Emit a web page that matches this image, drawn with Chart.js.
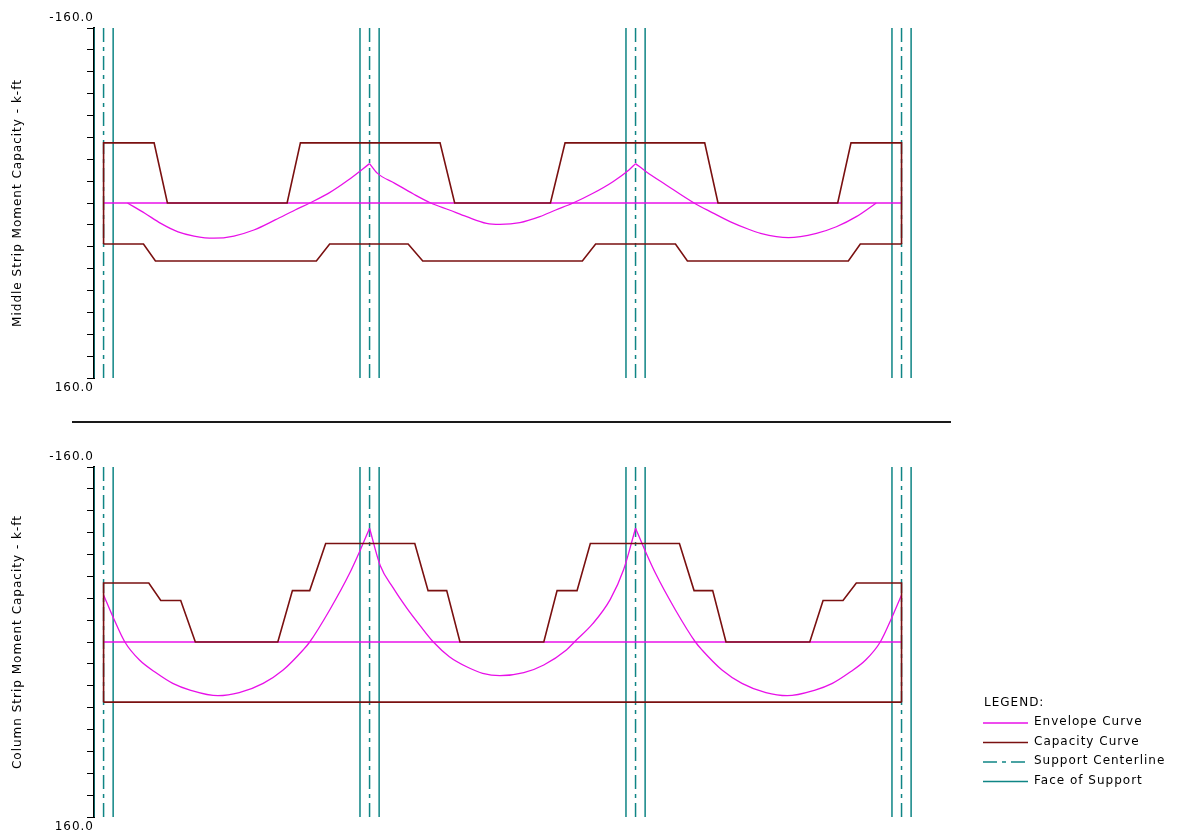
<!DOCTYPE html>
<html>
<head>
<meta charset="utf-8">
<title>Strip Moment Capacity</title>
<script src="https://cdn.jsdelivr.net/npm/chart.js@4.4.1/dist/chart.umd.min.js"></script>
<style>
  html, body { margin: 0; padding: 0; background: #fff; overflow: hidden; }
  #page { position: relative; width: 1180px; height: 836px; }
  .panel { position: absolute; left: 0; width: 1180px; height: 420px; }
  #top { top: 0; }
  #bottom { top: 420px; }
  #divider { position: absolute; left: 72px; top: 421px; width: 879px; height: 2px; background: #1a1a1a; }
</style>
</head>
<body>
<div id="page">
  <div class="panel" id="top"><canvas id="middleStrip" width="1180" height="420"></canvas></div>
  <div id="divider"></div>
  <div class="panel" id="bottom"><canvas id="columnStrip" width="1180" height="420"></canvas></div>
</div>
<script>
// moment axis (k-ft), drawn reversed: negative at the top
const yLimits = [-160, 160];
const yStep = 20;
// distance along the strip (ft)
const xLimits = [-0.72, 64.02];

// supports: centerlines and faces
const supportX = [0, 20, 40, 60];
const faceX = [-0.72, 0.72, 19.28, 20.72, 39.28, 40.72, 59.28, 60.72];

// zero line of the envelope
const baseX = [0, 60];
const baseY = [0, 0];

// ---- middle strip ----
const midCapTopX = [0, 0, 3.8, 4.8, 13.8, 14.8, 25.3, 26.4, 33.6, 34.7, 45.2, 46.2, 55.2, 56.2, 60, 60];
const midCapTopY = [37.5, -55, -55, 0, 0, -55, -55, 0, 0, -55, -55, 0, 0, -55, -55, 37.5];
const midCapBotX = [0, 3.0, 3.9, 16.0, 17.0, 22.9, 24.0, 36.0, 37.0, 43.0, 43.9, 56.0, 56.9, 60];
const midCapBotY = [37.5, 37.5, 53, 53, 37.5, 37.5, 53, 53, 37.5, 37.5, 53, 53, 37.5, 37.5];

const midEnv1X = [1.8, 3.1, 4.3, 5.6, 6.8, 8.3, 9.8, 11.3, 12.9, 14.4, 15.5, 16.9, 18.4, 20.0];
const midEnv1Y = [0, 9.4, 18.6, 26.4, 30.2, 32.2, 30.2, 24.7, 15.5, 6.4, 0, -8.8, -21, -36];
const midEnv2X = [20.0, 20.6, 21.9, 23.3, 24.6, 26.0, 27.3, 28.8, 29.8, 31.3, 32.8, 34.0, 35.3, 36.8, 38.3, 39.5, 40.0];
const midEnv2Y = [-36, -27.1, -18, -8.2, 0, 6.4, 12.5, 18.6, 19.5, 18, 12.5, 6.4, 0, -8.9, -19.5, -30.2, -36];
const midEnv3X = [40.0, 40.8, 42.3, 44.4, 45.8, 47.1, 48.5, 49.4, 51.5, 53.6, 55.1, 56.6, 58.1];
const midEnv3Y = [-36, -28.6, -16.5, 0, 9, 17, 24, 27.7, 31.7, 27.7, 21.7, 12.5, 0];

// ---- column strip ----
const colCapTopX = [0, 0, 3.4, 4.3, 5.8, 6.9, 13.1, 14.2, 15.5, 16.7, 23.4, 24.4, 25.8, 26.8,
                    33.1, 34.1, 35.6, 36.6, 43.3, 44.4, 45.8, 46.8, 53.1, 54.1, 55.6, 56.6, 60, 60];
const colCapTopY = [55, -54, -54, -38, -38, 0, 0, -47, -47, -90, -90, -47, -47, 0,
                    0, -47, -47, -90, -90, -47, -47, 0, 0, -38, -38, -54, -54, 55];
const colCapBotX = [0, 60];
const colCapBotY = [55, 55];

const colEnv1X = [0, 0.7, 1.6, 2.7, 4.0, 5.2, 6.5, 8.6, 10.2, 12.0, 13.5, 15.0, 15.5, 17.0, 18.5, 19.3, 20.0];
const colEnv1Y = [-43, -23.1, 0, 16.5, 28.6, 37.8, 43.9, 49.1, 46.3, 37.8, 25.6, 7.3, 0, -29.3, -62.8, -84, -104];
const colEnv2X = [20.0, 20.8, 21.8, 22.8, 23.8, 24.8, 26.0, 27.3, 28.5, 29.8, 31.6, 33.1, 34.8, 35.4, 36.8, 38.1, 39.1, 40.0];
const colEnv2Y = [-104, -70, -49, -31, -15, 0, 13.4, 22.6, 28.6, 30.8, 28, 21, 7.3, 0, -17, -39, -66, -104];
const colEnv3X = [40.0, 40.7, 41.5, 43.0, 44.5, 45.0, 46.5, 48.0, 49.8, 51.4, 53.5, 54.8, 56.0, 57.3, 58.4, 59.3, 60.0];
const colEnv3Y = [-104, -84, -62.8, -29.3, 0, 7.3, 25.6, 37.8, 46.3, 49.1, 43.9, 37.8, 28.6, 16.5, 0, -23.1, -43];

const legendLabels = ["Envelope Curve", "Capacity Curve", "Support Centerline", "Face of Support"];

const ENV_COLOR = "#e810e8";
const CAP_COLOR = "#7a1010";
const SUP_COLOR = "#0f8585";
const CENTER_DASH = [14, 5, 4, 5];
const FONT = "DejaVu Sans";

function xy(xs, ys) {
  return xs.map((x, i) => ({ x, y: ys[i] }));
}

// vertical lines over the full axis, broken by null points
function verticals(xs) {
  return xs.flatMap(x => [{ x, y: yLimits[0] }, { x, y: yLimits[1] }, { x, y: null }]);
}

function lineSet(label, data, color, width, order, extra) {
  return Object.assign({
    label,
    data,
    borderColor: color,
    backgroundColor: color,
    borderWidth: width,
    order,
    showLine: true,
    fill: false,
    pointRadius: 0,
    pointHoverRadius: 0,
    spanGaps: false
  }, extra || {});
}

const letterSpacing = {
  id: "letterSpacing",
  beforeDraw(chart) {
    chart.ctx.letterSpacing = "1px";
  }
};

const stripLegend = {
  id: "stripLegend",
  afterDraw(chart, args, opts) {
    if (!opts.show) return;
    const ctx = chart.ctx;
    ctx.save();
    ctx.font = "12px '" + FONT + "'";
    ctx.letterSpacing = "1px";
    ctx.fillStyle = "#000";
    ctx.textBaseline = "middle";
    ctx.textAlign = "left";
    ctx.fillText("LEGEND:", opts.x + 1, opts.y);
    legendLabels.forEach((label, i) => {
      const ds = chart.data.datasets.find(d => d.label === label);
      const y = opts.y + (i + 1) * opts.step;
      ctx.strokeStyle = ds.borderColor;
      ctx.lineWidth = ds.borderWidth;
      ctx.setLineDash(ds.borderDash || []);
      ctx.beginPath();
      ctx.moveTo(opts.x, y + 1);
      ctx.lineTo(opts.x + opts.sample, y + 1);
      ctx.stroke();
      ctx.setLineDash([]);
      ctx.fillText(label, opts.x + opts.sample + 6, y);
    });
    ctx.restore();
  }
};

function makeChart(canvasId, title, caps, envs, padding, legend) {
  const datasets = [];
  caps.forEach(c => datasets.push(lineSet("Capacity Curve", xy(c[0], c[1]), CAP_COLOR, 1.6, 1)));
  envs.forEach(e => datasets.push(lineSet("Envelope Curve", xy(e[0], e[1]), ENV_COLOR, 1.3, 2,
    { cubicInterpolationMode: "monotone" })));
  datasets.push(lineSet("Envelope Curve", xy(baseX, baseY), ENV_COLOR, 1.3, 3));
  datasets.push(lineSet("Support Centerline", verticals(supportX), SUP_COLOR, 1.5, 4,
    { borderDash: CENTER_DASH }));
  datasets.push(lineSet("Face of Support", verticals(faceX), SUP_COLOR, 1.5, 5));

  return new Chart(document.getElementById(canvasId).getContext("2d"), {
    type: "scatter",
    data: { datasets },
    options: {
      responsive: false,
      animation: false,
      events: [],
      layout: { padding },
      scales: {
        x: {
          type: "linear",
          display: false,
          min: xLimits[0],
          max: xLimits[1]
        },
        y: {
          type: "linear",
          reverse: true,
          min: yLimits[0],
          max: yLimits[1],
          z: 1,
          afterFit: scale => { scale.width = 94; },
          ticks: {
            stepSize: yStep,
            autoSkip: false,
            padding: -7,
            color: "#000",
            font: { family: FONT, size: 12, lineHeight: "20px" },
            callback: v => {
              if (v === yLimits[0]) return [v.toFixed(1), ""];
              if (v === yLimits[1]) return ["", v.toFixed(1)];
              return "";
            }
          },
          grid: {
            drawOnChartArea: false,
            drawTicks: true,
            tickLength: 7,
            color: "#000",
            lineWidth: 1
          },
          border: { display: true, color: "#000", width: 2 },
          title: {
            display: true,
            text: title,
            color: "#000",
            font: { family: FONT, size: 12 },
            padding: { top: 11, bottom: 0 }
          }
        }
      },
      plugins: {
        legend: { display: false },
        tooltip: { enabled: false },
        stripLegend: legend
      }
    },
    plugins: [letterSpacing, stripLegend]
  });
}

makeChart("middleStrip", "Middle Strip Moment Capacity - k-ft",
  [[midCapTopX, midCapTopY], [midCapBotX, midCapBotY]],
  [[midEnv1X, midEnv1Y], [midEnv2X, midEnv2Y], [midEnv3X, midEnv3Y]],
  { left: 0, top: 28, right: 225, bottom: 42 },
  { show: false });

makeChart("columnStrip", "Column Strip Moment Capacity - k-ft",
  [[colCapTopX, colCapTopY], [colCapBotX, colCapBotY]],
  [[colEnv1X, colEnv1Y], [colEnv2X, colEnv2Y], [colEnv3X, colEnv3Y]],
  { left: 0, top: 47, right: 225, bottom: 23 },
  { show: true, x: 983, y: 282.5, step: 19.5, sample: 45 });
</script>
</body>
</html>
